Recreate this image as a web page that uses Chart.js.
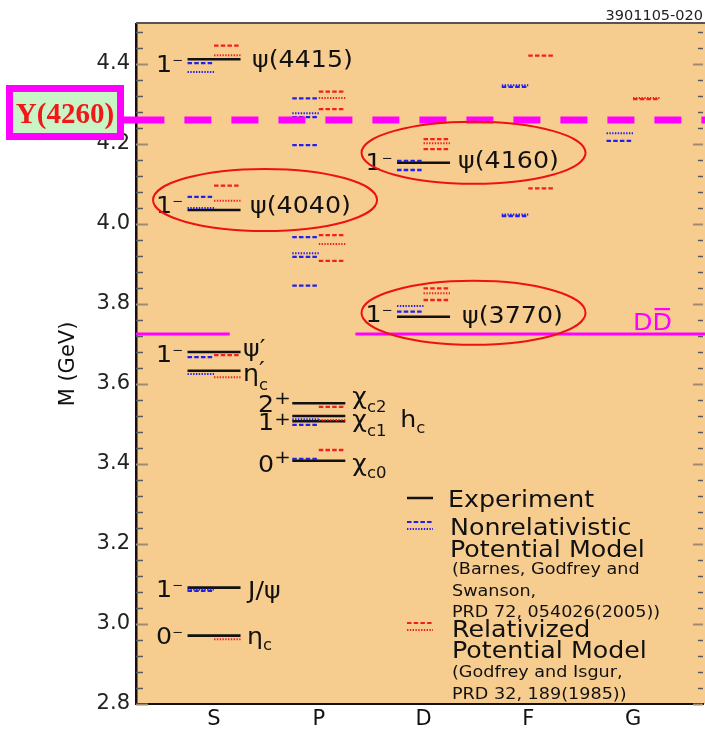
<!DOCTYPE html>
<html>
<head>
<meta charset="utf-8">
<script src="https://cdn.jsdelivr.net/npm/chart.js@4.4.0/dist/chart.umd.min.js"></script>
<style>
  html, body { margin: 0; padding: 0; background: #fff; }
  canvas { display: block; }
</style>
</head>
<body>
<canvas id="spec" width="705" height="730"></canvas>
<script>
// ---- values (masses in GeV) ----
const waves = ['S', 'P', 'D', 'F', 'G'];
const massTicks = [2.8, 3.0, 3.2, 3.4, 3.6, 3.8, 4.0, 4.2, 4.4];

// experiment (black)
const expCol  = [1, 1, 1, 1, 1, 1, 2, 2, 2, 2, 3, 3];
const expMass = [4.412, 4.035, 3.680, 3.633, 3.091, 2.971, 3.552, 3.520, 3.507, 3.408, 4.153, 3.768];

// nonrelativistic potential model (blue, left half of each level)
const nrDashCol  = [1, 1, 1, 1, 2, 2, 2, 2, 2, 2, 2, 2, 3, 3, 3, 4, 4, 5];
const nrDashMass = [4.402, 4.068, 3.667, 3.083, 4.314, 4.267, 4.197, 3.967, 3.918, 3.846, 3.498, 3.413, 4.158, 4.135, 3.781, 4.343, 4.020, 4.208];
const nrDotCol  = [1, 1, 1, 1, 2, 2, 2, 3, 4, 4, 5];
const nrDotMass = [4.380, 4.040, 3.625, 3.086, 4.277, 3.927, 3.512, 3.795, 4.347, 4.024, 4.227];

// relativized potential model (red, right half of each level)
const giDashCol  = [1, 1, 1, 2, 2, 2, 2, 2, 2, 3, 3, 3, 3, 4, 4, 5];
const giDashMass = [4.446, 4.096, 3.672, 4.331, 4.287, 3.972, 3.908, 3.543, 3.435, 4.212, 4.187, 3.839, 3.810, 4.421, 4.089, 4.312];
const giDotCol  = [1, 1, 1, 1, 2, 2, 2, 3, 3, 5];
const giDotMass = [4.422, 4.058, 3.617, 2.962, 4.315, 3.950, 3.510, 4.202, 3.827, 4.315];

const yStateMass = 4.26;   // Y(4260)
const ddbarMass = 3.725;   // D Dbar threshold

// ---- styles ----
const BLUE = '#2020f0';
const RED = '#f02020';
const MAGENTA = '#ff00ff';
const DASH = [4.5, 2.2];
const DOT = [1.4, 1.4];
const HALF = 0.253;       // half width of a level, in column units
const SX = 1.1;           // the figure's lettering is a bit wide
const FONT = "'DejaVu Sans', sans-serif";

function levelPoints(cols, masses, side) {
  const pts = [];
  cols.forEach((c, i) => {
    const a = side === 'right' ? c : c - HALF;
    const b = side === 'left' ? c : c + HALF;
    pts.push({ x: a, y: masses[i] }, { x: b, y: masses[i] }, { x: b, y: null });
  });
  return pts;
}

// state labels: [column, baseline mass, dx px, align, parts[text, size, dy, extraAdvance]]
const minus = (d) => [[d, 23, 0], ['\u2212', 12, -8.5]];
const stateLabels = [
  [1, 4.380, -31, 'right', minus('1')],
  [1, 4.3925, 38, 'left', [['\u03c8(4415)', 23, 0]]],
  [1, 4.0275, -31, 'right', minus('1')],
  [1, 4.0275, 36, 'left', [['\u03c8(4040)', 23, 0]]],
  [1, 3.655, -31, 'right', minus('1')],
  [1, 3.670, 29, 'left', [['\u03c8\u2032', 23, 0]]],
  [1, 3.6075, 29, 'left', [['\u03b7', 23, 0], ['\u2032', 23, -3, 'back'], ['c', 15, 9]]],
  [1, 3.0675, -31, 'right', minus('1')],
  [1, 3.065, 34, 'left', [['J/\u03c8', 23, 0]]],
  [1, 2.950, -31, 'right', minus('0')],
  [1, 2.950, 33, 'left', [['\u03b7', 23, 0], ['c', 15, 6]]],
  [2, 3.530, -28, 'right', [['2', 23, 0], ['+', 18, -8]]],
  [2, 3.485, -28, 'right', [['1', 23, 0], ['+', 18, -5]]],
  [2, 3.380, -28, 'right', [['0', 23, 0], ['+', 18, -9.5]]],
  [2, 3.549, 33.5, 'left', [['\u03c7', 23, 0], ['c2', 15, 7.5]]],
  [2, 3.4925, 33.5, 'left', [['\u03c7', 23, 0], ['c1', 15, 9]]],
  [2, 3.4925, 81.5, 'left', [['h', 23, 0], ['c', 15, 6]]],
  [2, 3.3825, 33.5, 'left', [['\u03c7', 23, 0], ['c0', 15, 7]]],
  [3, 4.135, -31, 'right', minus('1')],
  [3, 4.140, 34.5, 'left', [['\u03c8(4160)', 23, 0]]],
  [3, 3.755, -31, 'right', minus('1')],
  [3, 3.7525, 38.5, 'left', [['\u03c8(3770)', 23, 0]]]
];

// red ellipses: [column, centre mass, dx px, rx, ry]
const rings = [
  [1, 4.060, 51, 112, 31],
  [3, 4.178, 50, 112, 31],
  [3, 3.778, 50, 112, 32]
];

function drawParts(ctx, x, y, parts, align, color) {
  const widths = parts.map(p => {
    ctx.font = p[1] + 'px ' + FONT;
    return ctx.measureText(p[0]).width * SX;
  });
  let total = 0;
  parts.forEach((p, i) => { if (p[3] !== 'back') total += widths[i]; });
  let cx = align === 'right' ? x - total : x;
  parts.forEach((p, i) => {
    ctx.save();
    ctx.font = p[1] + 'px ' + FONT;
    ctx.fillStyle = color;
    ctx.textBaseline = 'alphabetic';
    ctx.textAlign = 'left';
    ctx.translate(cx, y + (p[2] || 0));
    ctx.scale(SX, 1);
    ctx.fillText(p[0], 0, 0);
    ctx.restore();
    if (p[3] !== 'back') cx += widths[i];
  });
}

function text(ctx, s, x, y, size, color) {
  drawParts(ctx, x, y, [[s, size, 0]], 'left', color || '#111');
}

function sample(ctx, y, color, dash, width) {
  ctx.save();
  ctx.strokeStyle = color;
  ctx.lineWidth = width;
  ctx.setLineDash(dash);
  ctx.beginPath();
  ctx.moveTo(407, y);
  ctx.lineTo(433, y);
  ctx.stroke();
  ctx.restore();
}

const decor = {
  id: 'decor',
  beforeDraw(chart) {
    const { ctx, chartArea: ca } = chart;
    ctx.save();
    ctx.fillStyle = '#f7cd8f';
    ctx.fillRect(ca.left, ca.top, chart.width - ca.left, ca.bottom - ca.top);
    ctx.restore();
  },
  afterDraw(chart) {
    const { ctx, chartArea: ca } = chart;
    const xs = chart.scales.x, ys = chart.scales.y;
    const right = chart.width - 2;
    ctx.save();

    // frame ticks, every 0.04 GeV, longer every 0.2
    for (let i = 0; i <= 42; i++) {
      const y = Math.round(ys.getPixelForValue(2.8 + i * 0.04)) + 0.5;
      const major = i % 5 === 0;
      ctx.strokeStyle = major ? '#9c8b70' : '#5a5a5a';
      ctx.lineWidth = major ? 2 : 1.3;
      ctx.beginPath();
      ctx.moveTo(ca.left, y); ctx.lineTo(ca.left + (major ? 12 : 7), y);
      ctx.moveTo(right, y); ctx.lineTo(right - (major ? 10 : 5), y);
      ctx.stroke();
    }
    ctx.strokeStyle = '#555';
    ctx.lineWidth = 2;
    ctx.beginPath();
    ctx.moveTo(ca.left, ca.top - 1); ctx.lineTo(chart.width, ca.top - 1);
    ctx.stroke();

    // state names and J^P
    stateLabels.forEach(l => {
      drawParts(ctx, xs.getPixelForValue(l[0]) + l[2], ys.getPixelForValue(l[1]), l[4], l[3], '#111');
    });

    // D Dbar
    const dx = xs.getPixelForValue(5), dy = ys.getPixelForValue(ddbarMass) - 4;
    ctx.font = '23px ' + FONT;
    const wD = ctx.measureText('D').width * SX;
    drawParts(ctx, dx, dy, [['DD', 23, 0]], 'left', MAGENTA);
    ctx.fillStyle = MAGENTA;
    ctx.fillRect(dx + wD + 2, dy - 22, wD - 4, 2.2);

    // ellipses
    ctx.strokeStyle = '#ee1111';
    ctx.lineWidth = 2;
    rings.forEach(r => {
      ctx.beginPath();
      ctx.ellipse(xs.getPixelForValue(r[0]) + r[2], ys.getPixelForValue(r[1]), r[3], r[4], 0, 0, Math.PI * 2);
      ctx.stroke();
    });

    // legend
    sample(ctx, 498, '#111', [], 2.5);
    text(ctx, 'Experiment', 448, 507, 23);
    sample(ctx, 522, BLUE, DASH, 2.2);
    sample(ctx, 529, BLUE, DOT, 2);
    text(ctx, 'Nonrelativistic', 450, 535, 23);
    text(ctx, 'Potential Model', 450, 557, 23);
    text(ctx, '(Barnes, Godfrey and', 452, 574, 16);
    text(ctx, 'Swanson,', 452, 596, 16);
    text(ctx, 'PRD 72, 054026(2005))', 452, 617, 16);
    sample(ctx, 623, RED, DASH, 2.2);
    sample(ctx, 630, RED, DOT, 2);
    text(ctx, 'Relativized', 452, 637, 23);
    text(ctx, 'Potential Model', 452, 658, 23);
    text(ctx, '(Godfrey and Isgur,', 452, 677, 16);
    text(ctx, 'PRD 32, 189(1985))', 452, 699, 16);

    // figure tag
    ctx.font = '14.5px ' + FONT;
    ctx.fillStyle = '#222';
    ctx.textAlign = 'right';
    ctx.textBaseline = 'alphabetic';
    ctx.fillText('3901105-020', 703, 20);

    // Y(4260) box
    const by = ys.getPixelForValue(yStateMass) - 7.5;
    ctx.fillStyle = '#c9f5c6';
    ctx.fillRect(9.5, by - 24, 111, 48);
    ctx.strokeStyle = MAGENTA;
    ctx.lineWidth = 7;
    ctx.strokeRect(9.5, by - 24, 111, 48);
    ctx.font = "bold 29px 'Liberation Serif', serif";
    ctx.fillStyle = '#f01818';
    ctx.textAlign = 'center';
    ctx.fillText('Y(4260)', 65, by + 10);
    ctx.restore();
  }
};

const xLeft = 0.255, xRight = 5.668;
const pxUnit = 567 / (xRight - xLeft);

new Chart(document.getElementById('spec').getContext('2d'), {
  type: 'line',
  data: {
    datasets: [
      {
        label: 'Y(4260)',
        data: [
          { x: xLeft - 16 / pxUnit, y: yStateMass },
          { x: xLeft + 1.4 / pxUnit, y: yStateMass },
          { x: xRight + 2 / pxUnit, y: yStateMass }
        ],
        borderColor: MAGENTA,
        borderWidth: 7,
        segment: { borderDash: c => c.p0DataIndex === 0 ? [] : [27, 20] }
      },
      {
        label: 'DDbar',
        data: [
          { x: xLeft, y: ddbarMass }, { x: 1.15, y: ddbarMass }, { x: 1.15, y: null },
          { x: 2.35, y: ddbarMass }, { x: xRight + 2 / pxUnit, y: ddbarMass }
        ],
        borderColor: MAGENTA,
        borderWidth: 3
      },
      { label: 'NR dashed', data: levelPoints(nrDashCol, nrDashMass, 'left'), borderColor: BLUE, borderWidth: 2.3, borderDash: DASH },
      { label: 'NR dotted', data: levelPoints(nrDotCol, nrDotMass, 'left'), borderColor: BLUE, borderWidth: 2, borderDash: DOT },
      { label: 'GI dashed', data: levelPoints(giDashCol, giDashMass, 'right'), borderColor: RED, borderWidth: 2.3, borderDash: DASH },
      { label: 'GI dotted', data: levelPoints(giDotCol, giDotMass, 'right'), borderColor: RED, borderWidth: 2, borderDash: DOT },
      { label: 'Experiment', data: levelPoints(expCol, expMass, 'both'), borderColor: '#111', borderWidth: 2.6 }
    ]
  },
  options: {
    responsive: false,
    animation: false,
    spanGaps: false,
    layout: { padding: { top: 24, right: 2, left: 0, bottom: 0 } },
    elements: {
      point: { radius: 0, hoverRadius: 0 },
      line: { tension: 0, borderCapStyle: 'butt', fill: false }
    },
    datasets: { line: { clip: false } },
    plugins: { legend: { display: false }, tooltip: { enabled: false } },
    scales: {
      x: {
        type: 'linear',
        min: xLeft,
        max: xRight,
        afterFit: s => { s.height = 26; },
        afterBuildTicks: s => { s.ticks = waves.map((w, i) => ({ value: i + 1 })); },
        grid: { display: false, drawTicks: false },
        border: { display: true, color: '#111', width: 2 },
        ticks: {
          autoSkip: false,
          maxRotation: 0,
          padding: 3,
          color: '#111',
          font: { family: FONT, size: 21 },
          callback: v => waves[Math.round(v) - 1] || ''
        }
      },
      y: {
        type: 'linear',
        min: 2.8,
        max: 4.5,
        afterFit: s => { s.width = 136; },
        afterBuildTicks: s => { s.ticks = massTicks.map(v => ({ value: v })); },
        grid: { display: false, drawTicks: false },
        border: { display: true, color: '#111', width: 2.5 },
        ticks: {
          padding: 6,
          color: '#222',
          font: { family: FONT, size: 21 },
          callback: v => Number(v).toFixed(1)
        },
        title: {
          display: true,
          text: 'M (GeV)',
          color: '#111',
          font: { family: FONT, size: 21 },
          padding: { top: 56, bottom: 0 }
        }
      }
    }
  },
  plugins: [decor]
});
</script>
</body>
</html>
